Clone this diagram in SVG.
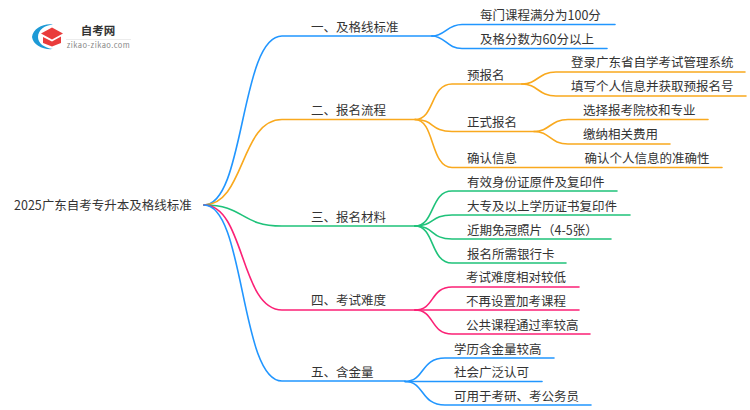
<svg xmlns="http://www.w3.org/2000/svg" width="750" height="410" viewBox="0 0 750 410">
<style>
text{font-family:"Noto Sans CJK SC","Noto Sans",sans-serif;font-size:12.500px;fill:#333}
.c{fill:none;stroke-width:1.6;stroke-linecap:round}
.b{stroke:#2196ff}.o{stroke:#f9a91e}.g{stroke:#1fc27a}.p{stroke:#fb2176}
</style>
<rect width="750" height="410" fill="#fff"/>
<g id="connectors">
<path class="c b" d="M204,205 C245,205 240,36 282,36 H432"/>
<path class="c o" d="M204,205 C245,205 240,119.500 282,119.500 H415"/>
<path class="c g" d="M204,205 C245,205 240,226 282,226 H415"/>
<path class="c p" d="M204,205 C245,205 240,310 282,310 H415"/>
<path class="c b" d="M204,205 C245,205 240,381 282,381 H405"/>
<path class="c b" d="M432,36 C445,36 447,24.500 462,24.500 H615"/>
<path class="c b" d="M432,36 C445,36 447,48.500 462,48.500 H607"/>
<path class="c o" d="M415,119.500 C435,119.500 430,84 452,84 H522"/>
<path class="c o" d="M415,119.500 C435,119.500 430,131.500 452,131.500 H534"/>
<path class="c o" d="M415,119.500 C435,119.500 430,167.500 452,167.500 H722"/>
<path class="c o" d="M522,84 C538,84 538,72 556,72 H745"/>
<path class="c o" d="M522,84 C538,84 538,96 556,96 H746"/>
<path class="c o" d="M534,131.500 C550,131.500 550,119.500 568,119.500 H708"/>
<path class="c o" d="M534,131.500 C550,131.500 550,144 568,144 H670"/>
<path class="c g" d="M415,226 C435,226 430,191 452,191 H617"/>
<path class="c g" d="M415,226 C435,226 430,215 452,215 H630"/>
<path class="c g" d="M415,226 C435,226 430,239 452,239 H611"/>
<path class="c g" d="M415,226 C435,226 430,263 452,263 H566"/>
<path class="c p" d="M415,310 C435,310 430,287 452,287 H579"/>
<path class="c p" d="M415,310 H579"/>
<path class="c p" d="M415,310 C435,310 430,334 452,334 H590"/>
<path class="c b" d="M405,381.500 C425,381.500 420,358 445,358 H554"/>
<path class="c b" d="M405,381.500 H542"/>
<path class="c b" d="M405,381.500 C425,381.500 420,405 445,405 H591"/>
</g>
<g id="logo">
<path d="M53,24.500 C44,23 33,28 32,37 C33,45 43,50 53,49 C44,48 38,43 38,37 C38,30 45,25 53,24.500Z" fill="#1d9ad6"/>
<path d="M41,33.500 L52,27.500 L63,33.500 L52,39.500Z" fill="#e93c3c"/>
<path d="M43,37 V43 L52,46.500 L61,43 V36.500 L52,41.500Z" fill="#e93c3c"/>
<rect x="66" y="39" width="65" height="0.800" fill="#e8e8e8"/>
<text x="98" y="35" text-anchor="middle" style="font-size:11.500px;font-weight:700;fill:#333">自考网</text>
<text x="98.500" y="48" text-anchor="middle" style="font-size:7.500px;fill:#888;letter-spacing:.45px">zikao-zikao.com</text>
</g>
<g id="root"><text x="14" y="209.500">2025广东自考专升本及格线标准</text></g>
<g id="n1"><text x="311" y="31.500">一、及格线标准</text></g>
<g id="n2"><text x="311" y="114.500">二、报名流程</text></g>
<g id="n3"><text x="311" y="221.500">三、报名材料</text></g>
<g id="n4"><text x="311" y="305">四、考试难度</text></g>
<g id="n5"><text x="311" y="377">五、含金量</text></g>
<g id="n1a"><text x="480" y="19.500">每门课程满分为100分</text></g>
<g id="n1b"><text x="480" y="43.500">及格分数为60分以上</text></g>
<g id="n2a"><text x="467" y="79.500">预报名</text></g>
<g id="n2a1"><text x="571" y="67">登录广东省自学考试管理系统</text></g>
<g id="n2a2"><text x="571" y="91">填写个人信息并获取预报名号</text></g>
<g id="n2b"><text x="467" y="127">正式报名</text></g>
<g id="n2b1"><text x="583" y="115">选择报考院校和专业</text></g>
<g id="n2b2"><text x="583" y="139">缴纳相关费用</text></g>
<g id="n2c"><text x="467" y="163">确认信息</text></g>
<g id="n2c1"><text x="584.500" y="163">确认个人信息的准确性</text></g>
<g id="n3a"><text x="467" y="186.500">有效身份证原件及复印件</text></g>
<g id="n3b"><text x="467" y="210.500">大专及以上学历证书复印件</text></g>
<g id="n3c"><text x="467" y="234.500">近期免冠照片（4-5张）</text></g>
<g id="n3d"><text x="467" y="258.500">报名所需银行卡</text></g>
<g id="n4a"><text x="466" y="282">考试难度相对较低</text></g>
<g id="n4b"><text x="466" y="306">不再设置加考课程</text></g>
<g id="n4c"><text x="466" y="330">公共课程通过率较高</text></g>
<g id="n5a"><text x="454" y="353.500">学历含金量较高</text></g>
<g id="n5b"><text x="454" y="377">社会广泛认可</text></g>
<g id="n5c"><text x="454" y="400.500">可用于考研、考公务员</text></g>
</svg>
